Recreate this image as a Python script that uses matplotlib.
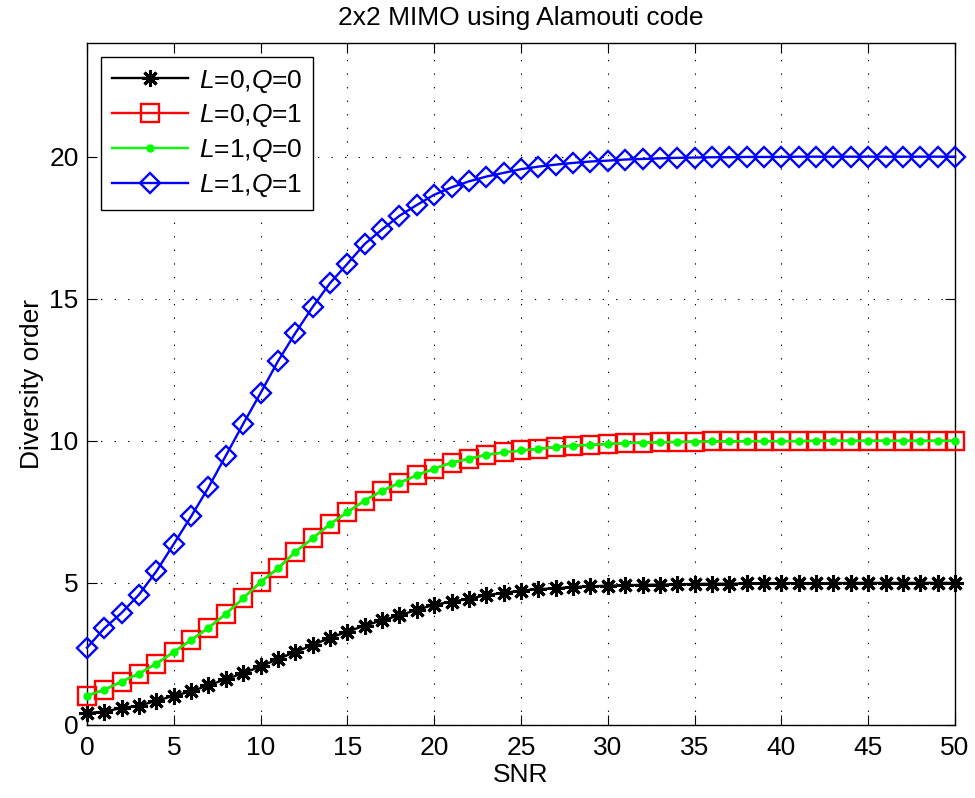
import numpy as np
import matplotlib
matplotlib.use("Agg")
import matplotlib.pyplot as plt

plt.rcParams['font.family'] = ['Liberation Sans', 'DejaVu Sans']
plt.rcParams['mathtext.fontset'] = 'custom'
plt.rcParams['mathtext.rm'] = 'Liberation Sans'
plt.rcParams['mathtext.it'] = 'Liberation Sans:italic'

# SNR punten 0..50
snr = np.arange(0, 51)

# L=0, Q=0
div_L0_Q0 = [0.42, 0.47, 0.60, 0.68, 0.85, 1.03, 1.18, 1.40, 1.61, 1.82,
             2.06, 2.32, 2.57, 2.81, 3.07, 3.28, 3.50, 3.68, 3.86, 4.05,
             4.23, 4.34, 4.44, 4.57, 4.65, 4.73, 4.78, 4.81, 4.86, 4.88,
             4.90, 4.92, 4.93, 4.94, 4.95, 4.96, 4.97, 4.97, 4.98, 4.98,
             4.99, 4.99, 4.99, 4.99, 5.00, 5.00, 5.00, 5.00, 5.00, 5.00, 5.00]

# L=0, Q=1
div_L0_Q1 = [1.03, 1.24, 1.53, 1.81, 2.16, 2.57, 2.99, 3.42, 3.91, 4.46,
             5.03, 5.51, 6.09, 6.57, 7.07, 7.49, 7.90, 8.24, 8.52, 8.79,
             9.02, 9.23, 9.37, 9.51, 9.59, 9.66, 9.72, 9.78, 9.83, 9.86,
             9.89, 9.92, 9.94, 9.95, 9.96, 9.97, 9.98, 9.98, 9.99, 9.99,
             9.99, 9.99, 10.0, 10.0, 10.0, 10.0, 10.0, 10.0, 10.0, 10.0, 10.0]

# L=1, Q=0
div_L1_Q0 = [1.03, 1.24, 1.53, 1.81, 2.16, 2.57, 2.99, 3.42, 3.91, 4.46,
             5.03, 5.51, 6.09, 6.57, 7.07, 7.49, 7.90, 8.24, 8.52, 8.79,
             9.02, 9.23, 9.37, 9.51, 9.59, 9.66, 9.72, 9.78, 9.83, 9.86,
             9.89, 9.92, 9.94, 9.95, 9.96, 9.97, 9.98, 9.98, 9.99, 9.99,
             9.99, 9.99, 10.0, 10.0, 10.0, 10.0, 10.0, 10.0, 10.0, 10.0, 10.0]

# L=1, Q=1
div_L1_Q1 = [2.72, 3.40, 3.95, 4.59, 5.41, 6.37, 7.34, 8.36, 9.48, 10.60,
             11.68, 12.80, 13.79, 14.71, 15.55, 16.23, 16.93, 17.44, 17.92, 18.30,
             18.66, 18.92, 19.13, 19.30, 19.43, 19.56, 19.65, 19.72, 19.78, 19.83,
             19.86, 19.90, 19.92, 19.94, 19.96, 19.97, 19.98, 19.98, 19.99, 19.99,
             19.99, 20.0, 20.0, 20.0, 20.0, 20.0, 20.0, 20.0, 20.0, 20.0, 20.0]

labels = ["$L$=0,$Q$=0", "$L$=0,$Q$=1", "$L$=1,$Q$=0", "$L$=1,$Q$=1"]

fs = 19

fig, ax = plt.subplots(figsize=(9.75, 7.98), dpi=100)
fig.subplots_adjust(left=0.0892, right=0.9795, bottom=0.0915, top=0.9461)

ax.plot(snr, div_L0_Q0, color='black', lw=1.7, marker=(8, 2, 0), ms=12,
        mew=2.2, clip_on=False, zorder=3, label=labels[0])
ax.plot(snr, div_L0_Q1, color='red', lw=1.7, marker='s', ms=12.5,
        mfc='none', mec='red', mew=1.7, clip_on=False, zorder=3, label=labels[1])
ax.plot(snr, div_L1_Q0, color='#00ff00', lw=1.7, marker='o', ms=5,
        mfc='#00ff00', mec='#00ff00', clip_on=False, zorder=3, label=labels[2])
ax.plot(snr, div_L1_Q1, color='blue', lw=1.7, marker='D', ms=10.5,
        mfc='none', mec='blue', mew=1.7, clip_on=False, zorder=3, label=labels[3])

ax.set_xlim(0, 50)
ax.set_ylim(0, 24)
ax.set_xticks(np.arange(0, 51, 5))
ax.set_yticks([0, 5, 10, 15, 20])

ax.grid(True, color='black', linestyle=(0, (1.2, 11)), lw=0.8)
ax.tick_params(direction='in', top=True, right=True, length=7, width=0.8,
               labelsize=fs)
ax.tick_params(axis='x', pad=8)
ax.tick_params(axis='y', pad=6)
for sp in ax.spines.values():
    sp.set_linewidth(1.0)

ax.set_xlabel("SNR", fontsize=fs, labelpad=2)
ax.set_ylabel("Diversity order", fontsize=fs, labelpad=4)
ax.set_title("2x2 MIMO using Alamouti code", fontsize=fs, pad=13)

leg = ax.legend(loc='upper left', fontsize=fs, handlelength=2.9,
                handletextpad=0.42, labelspacing=0.3, borderpad=0.4,
                borderaxespad=0.53, fancybox=False, framealpha=1)
leg.get_frame().set_edgecolor('black')
leg.get_frame().set_linewidth(1.0)

fig.savefig("out.png", dpi=100)
